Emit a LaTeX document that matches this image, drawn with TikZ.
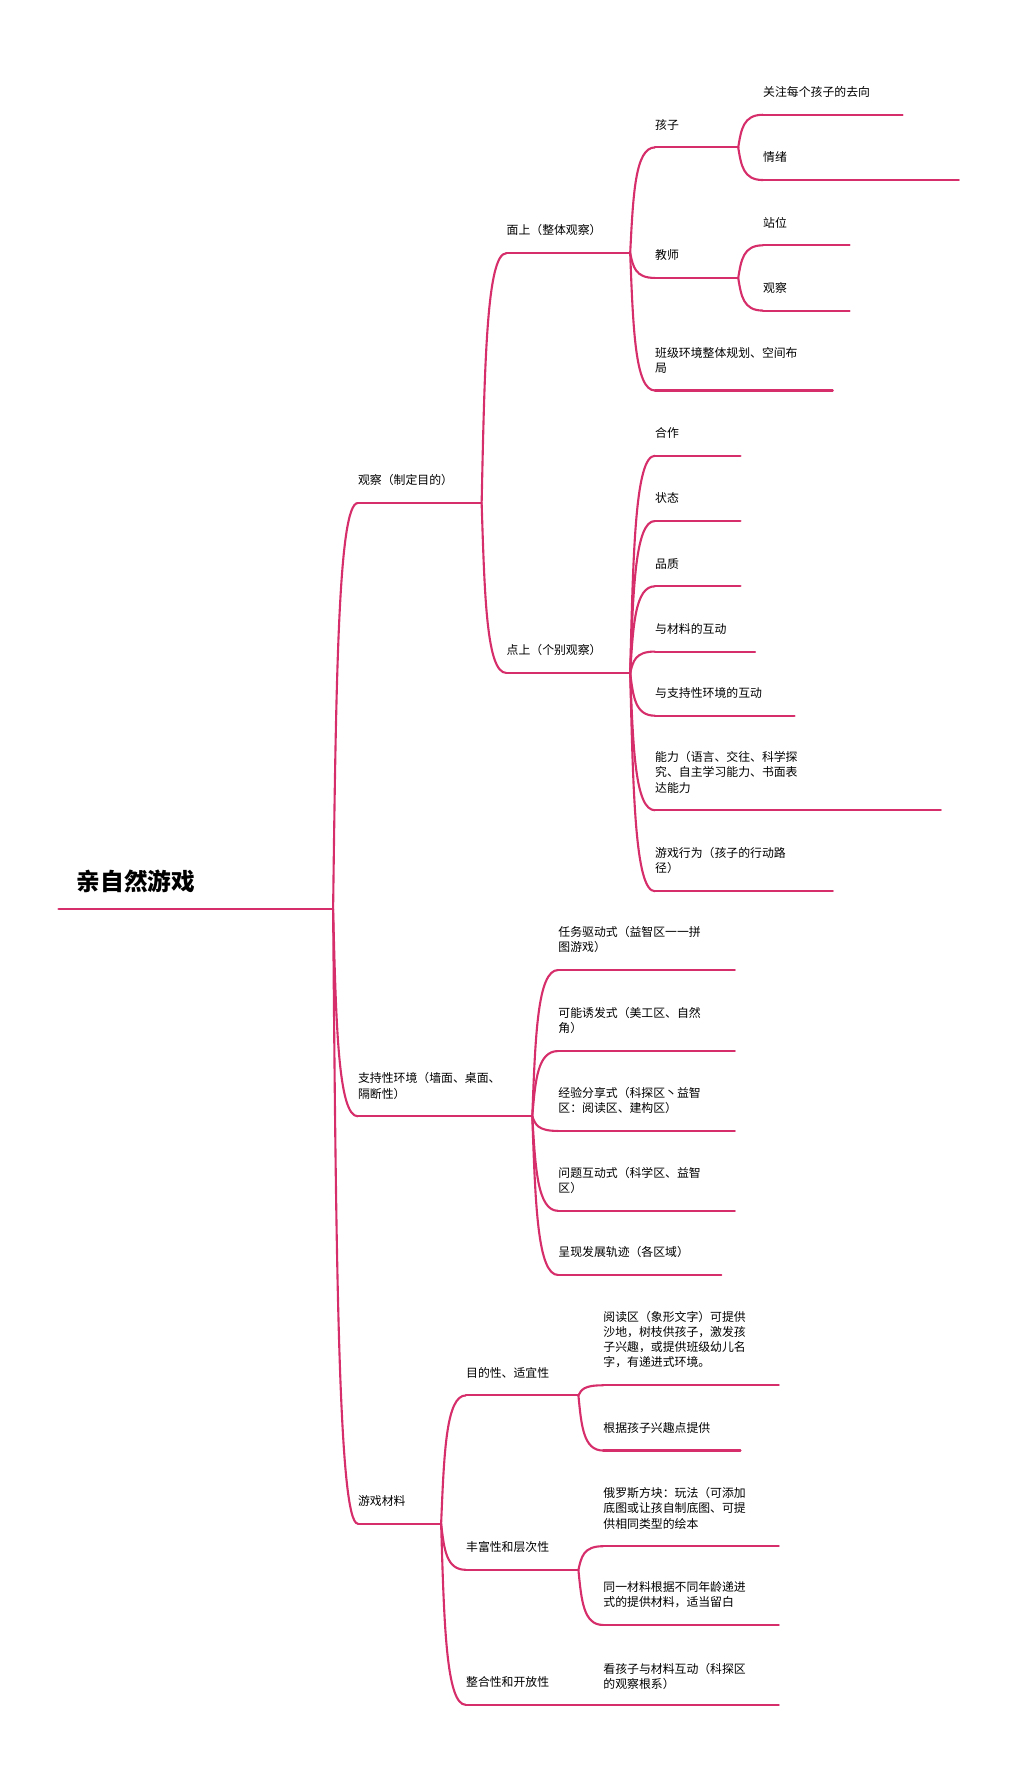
\documentclass[tikz,border=0pt]{standalone}
\usepackage{fontspec}
\setmainfont{Noto Sans CJK SC}
\usetikzlibrary{calc}
\definecolor{mm}{RGB}{214,46,106}
\tikzset{ln/.style={draw=mm,line width=1.6pt,line cap=round},
 lbl/.style={anchor=south west,inner sep=0pt,align=left,font=\fontsize{9}{11.5}\selectfont}}
\newcommand\itm[5]{%
 \coordinate (#1-s) at (#2,#3); \coordinate (#1-e) at (#4,#3);
 \draw[ln] (#1-s) -- (#1-e);
 \node[lbl] (#1-t) at ($(#2,#3)+(0,-15)$) {#5};}
\newcommand\br[2]{\draw[ln] let \p1=(#1-e), \p2=(#2-s) in (\p1) .. controls ({\x1+0.12*(\x2-\x1)},{\y1+0.55*(\y2-\y1)}) and ({\x1+0.2*(\x2-\x1)},\y2) .. (\p2);}
\begin{document}
\begin{tikzpicture}[x=0.03cm,y=-0.03cm]
\useasboundingbox (0,0) rectangle (910,1580);
\coordinate (root-s) at (52,808); \coordinate (root-e) at (296,808);
\draw[ln] (root-s) -- (root-e);
\node[anchor=south west,inner sep=0pt,font=\fontsize{18}{20}\selectfont\bfseries] (root-t) at (68,794) {亲自然游戏};
% level 1
\itm{a}{318}{447}{428}{观察（制定目的）}
\itm{b}{318}{992}{473}{支持性环境（墙面、桌面、\\隔断性）}
\itm{c}{318}{1354}{392}{游戏材料}
\br{root}{a}\br{root}{b}\br{root}{c}
% 观察
\itm{a1}{450}{225}{560}{面上（整体观察）}
\itm{a2}{450}{598}{560}{点上（个别观察）}
\br{a}{a1}\br{a}{a2}
\itm{a11}{582}{131}{656}{孩子}
\itm{a12}{582}{247}{656}{教师}
\itm{a13}{582}{347}{740}{班级环境整体规划、空间布\\局}
\br{a1}{a11}\br{a1}{a12}\br{a1}{a13}
\itm{a111}{678}{102}{802}{关注每个孩子的去向}
\itm{a112}{678}{160}{852}{情绪}
\br{a11}{a111}\br{a11}{a112}
\itm{a121}{678}{218}{755}{站位}
\itm{a122}{678}{276}{755}{观察}
\br{a12}{a121}\br{a12}{a122}
\itm{a21}{582}{405}{658}{合作}
\itm{a22}{582}{463}{658}{状态}
\itm{a23}{582}{521}{658}{品质}
\itm{a24}{582}{579}{671}{与材料的互动}
\itm{a25}{582}{636}{706}{与支持性环境的互动}
\itm{a26}{582}{720}{836}{能力（语言、交往、科学探\\究、自主学习能力、书面表\\达能力}
\itm{a27}{582}{792}{740}{游戏行为（孩子的行动路\\径）}
\foreach \k in {1,...,7}{\br{a2}{a2\k}}
% 支持性环境
\itm{b1}{496}{862}{653}{任务驱动式（益智区一一拼\\图游戏）}
\itm{b2}{496}{934}{653}{可能诱发式（美工区、自然\\角）}
\itm{b3}{496}{1005}{653}{经验分享式（科探区丶益智\\区：阅读区、建构区）}
\itm{b4}{496}{1076}{653}{问题互动式（科学区、益智\\区）}
\itm{b5}{496}{1133}{641}{呈现发展轨迹（各区域）}
\foreach \k in {1,...,5}{\br{b}{b\k}}
% 游戏材料
\itm{c1}{414}{1240}{514}{目的性、适宜性}
\itm{c2}{414}{1395}{514}{丰富性和层次性}
\itm{c3}{414}{1515}{692}{整合性和开放性}
\br{c}{c1}\br{c}{c2}\br{c}{c3}
\node[lbl] (c31-t) at (536,1502) {看孩子与材料互动（科探区\\的观察根系）};
\itm{c11}{536}{1231}{692}{阅读区（象形文字）可提供\\沙地，树枝供孩子，激发孩\\子兴趣，或提供班级幼儿名\\字，有递进式环境。}
\itm{c12}{536}{1289}{658}{根据孩子兴趣点提供}
\br{c1}{c11}\br{c1}{c12}
\itm{c21}{536}{1374}{692}{俄罗斯方块：玩法（可添加\\底图或让孩自制底图、可提\\供相同类型的绘本}
\itm{c22}{536}{1444}{692}{同一材料根据不同年龄递进\\式的提供材料，适当留白}
\br{c2}{c21}\br{c2}{c22}
\end{tikzpicture}
\end{document}
